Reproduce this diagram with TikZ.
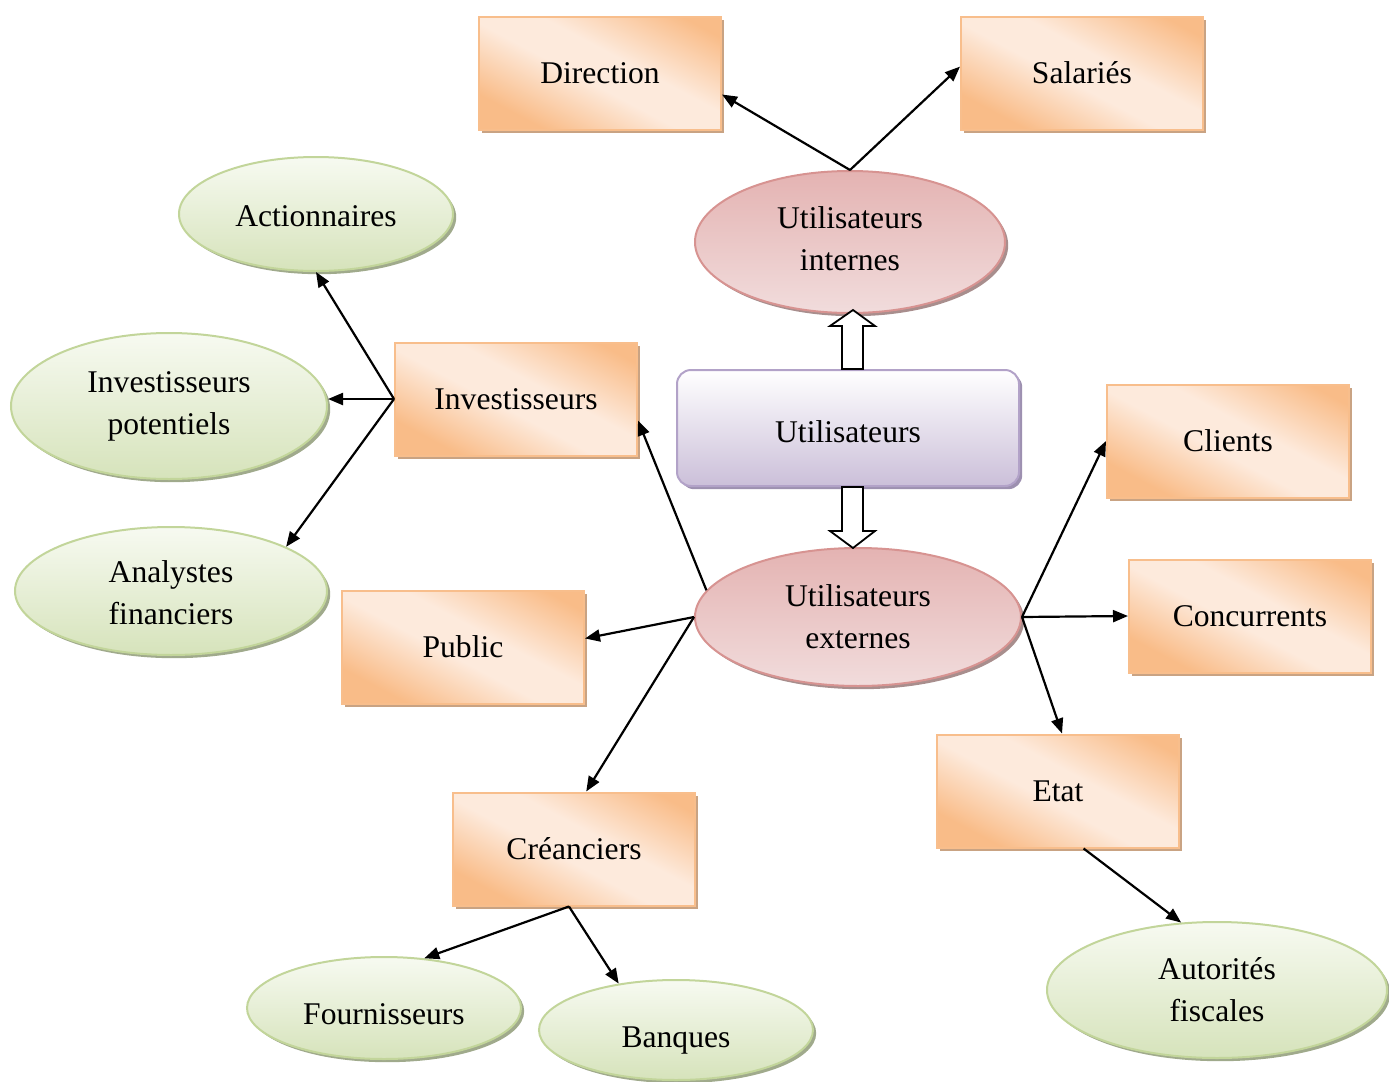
\documentclass[tikz,border=0pt]{standalone}
\usepackage{fontspec}
\setmainfont{Liberation Serif}
\usetikzlibrary{arrows.meta,shadows,shapes.geometric,calc}

% palette
\definecolor{orDeep}{HTML}{F9BC88}
\definecolor{orPale}{HTML}{FDEADC}
\definecolor{orEdge}{HTML}{F8BE8C}
\definecolor{orShade}{HTML}{C9A383}
\definecolor{grTop}{HTML}{F7FAF1}
\definecolor{grBot}{HTML}{D6E3BB}
\definecolor{grEdge}{HTML}{C2D59A}
\definecolor{grShade}{HTML}{A0AA8C}
\definecolor{rdTop}{HTML}{E4B3B2}
\definecolor{rdBot}{HTML}{F1DCDC}
\definecolor{rdEdge}{HTML}{D79391}
\definecolor{rdShade}{HTML}{A88E8D}
\definecolor{vlTop}{HTML}{FFFFFF}
\definecolor{vlBot}{HTML}{CBBFD9}
\definecolor{vlEdge}{HTML}{B2A2C8}
\definecolor{vlShade}{HTML}{9D90B0}

% diagonal band: deep corners, wide soft pale middle
\pgfdeclarehorizontalshading{orangeband}{100bp}{%
  color(0bp)=(orDeep); color(26bp)=(orDeep); color(46bp)=(orPale);
  color(57bp)=(orPale); color(78bp)=(orDeep); color(100bp)=(orDeep)}

\tikzset{
  lbl/.style={font=\fontsize{15.8pt}{21pt}\selectfont, align=center, inner sep=0pt},
  obox/.style={lbl, rectangle, draw=orEdge, line width=1pt,
    shading=orangeband, shading angle=62,
    minimum width=121pt, minimum height=56.5pt,
    drop shadow={shadow xshift=1.6pt, shadow yshift=-1.6pt, fill=orShade, opacity=1}},
  gell/.style={lbl, ellipse, draw=grEdge, line width=1pt,
    top color=grTop, bottom color=grBot,
    drop shadow={shadow xshift=1.6pt, shadow yshift=-1.6pt, fill=grShade, opacity=1}},
  rell/.style={lbl, ellipse, draw=rdEdge, line width=1pt,
    top color=rdTop, bottom color=rdBot,
    drop shadow={shadow xshift=1.6pt, shadow yshift=-1.6pt, fill=rdShade, opacity=1}},
  vbox/.style={lbl, rectangle, rounded corners=7pt, draw=vlEdge, line width=1pt,
    top color=vlTop, bottom color=vlBot,
    minimum width=171pt, minimum height=58pt,
    drop shadow={shadow xshift=1.6pt, shadow yshift=-1.6pt, fill=vlShade, opacity=1}},
  link/.style={line width=1.1pt, -{Triangle[length=7.5pt,width=6pt]}},
  fat/.style={draw=black, line width=0.9pt, fill=white, line join=miter},
}
% shift a label vertically inside its shape without changing the shape
\newcommand{\lowered}[2]{\raisebox{-#1}[\height][\depth]{#2}}

\begin{document}
\begin{tikzpicture}[x=0.5pt, y=-0.5pt]
\useasboundingbox (0,0) rectangle (1389,1082);

% central box and the two user groups
\node[vbox] (util) at (848,428) {\lowered{2pt}{Utilisateurs}};
\node[rell, minimum width=155pt, minimum height=71pt] (intern) at (850,242)
  {\lowered{-1.5pt}{Utilisateurs}\\\lowered{-1.5pt}{internes}};
\node[rell, minimum width=163pt, minimum height=69pt] (extern) at (858,617) {Utilisateurs\\externes};

% internal users
\node[obox] (dir) at (600,73) {Direction};
\node[obox] (sal) at (1082,73) {Salariés};

% investors and their kinds
\node[obox] (inv) at (516,399) {Investisseurs};
\node[gell, minimum width=137pt, minimum height=57pt] (act) at (316,214) {\lowered{1pt}{Actionnaires}};
\node[gell, minimum width=158pt, minimum height=73pt] (invp) at (169,406) {Investisseurs\\potentiels};
\node[gell, minimum width=156pt, minimum height=64pt] (ana) at (171,591) {\lowered{1pt}{Analystes}\\\lowered{1pt}{financiers}};

% other external users
\node[obox] (pub) at (463,647) {Public};
\node[obox] (cre) at (574,849) {Créanciers};
\node[obox] (cli) at (1228,441) {Clients};
\node[obox] (con) at (1250,616) {Concurrents};
\node[obox] (etat) at (1058,791) {Etat};

% creditors and the tax authority
\node[gell, minimum width=137pt, minimum height=51pt] (fou) at (384,1008) {\lowered{3pt}{Fournisseurs}};
\node[gell, minimum width=137pt, minimum height=50pt] (ban) at (676,1030) {\lowered{5.5pt}{Banques}};
\node[gell, minimum width=170pt, minimum height=68pt] (aut) at (1217,990) {Autorités\\fiscales};

% hollow block arrows out of the central box
\draw[fat] (util.north -| 842,0) -- (842,326) -- (830,326) -- (853,310)
  -- (875,326) -- (863,326) -- (util.north -| 863,0) -- cycle;
\draw[fat] (util.south -| 842,0) -- (842,531) -- (830,531) -- (853,548)
  -- (875,531) -- (863,531) -- (util.south -| 863,0) -- cycle;

% connectors
\draw[link] (intern.north) -- (dir.-10);
\draw[link] (intern.north) -- (sal.177);

\draw[link] (inv.west) -- (act.south);
\draw[link] (inv.west) -- (inv.west -| invp.east);
\draw[link] (inv.west) -- (ana.21);

\draw[link] (extern.170) -- (inv.-10);
\draw[link] (extern.west) -- (pub.4);
\draw[link] (extern.west) -- (cre.78);
\draw[link] (extern.east) -- (cli.west);
\draw[link] (extern.east) -- (con.west);
\draw[link] (extern.east) -- (etat.86);

\draw[link] (etat.-66) -- (aut.118);
\draw[link] (cre.-95) -- (fou.51);
\draw[link] (cre.-95) -- (ban.141);
\end{tikzpicture}
\end{document}
